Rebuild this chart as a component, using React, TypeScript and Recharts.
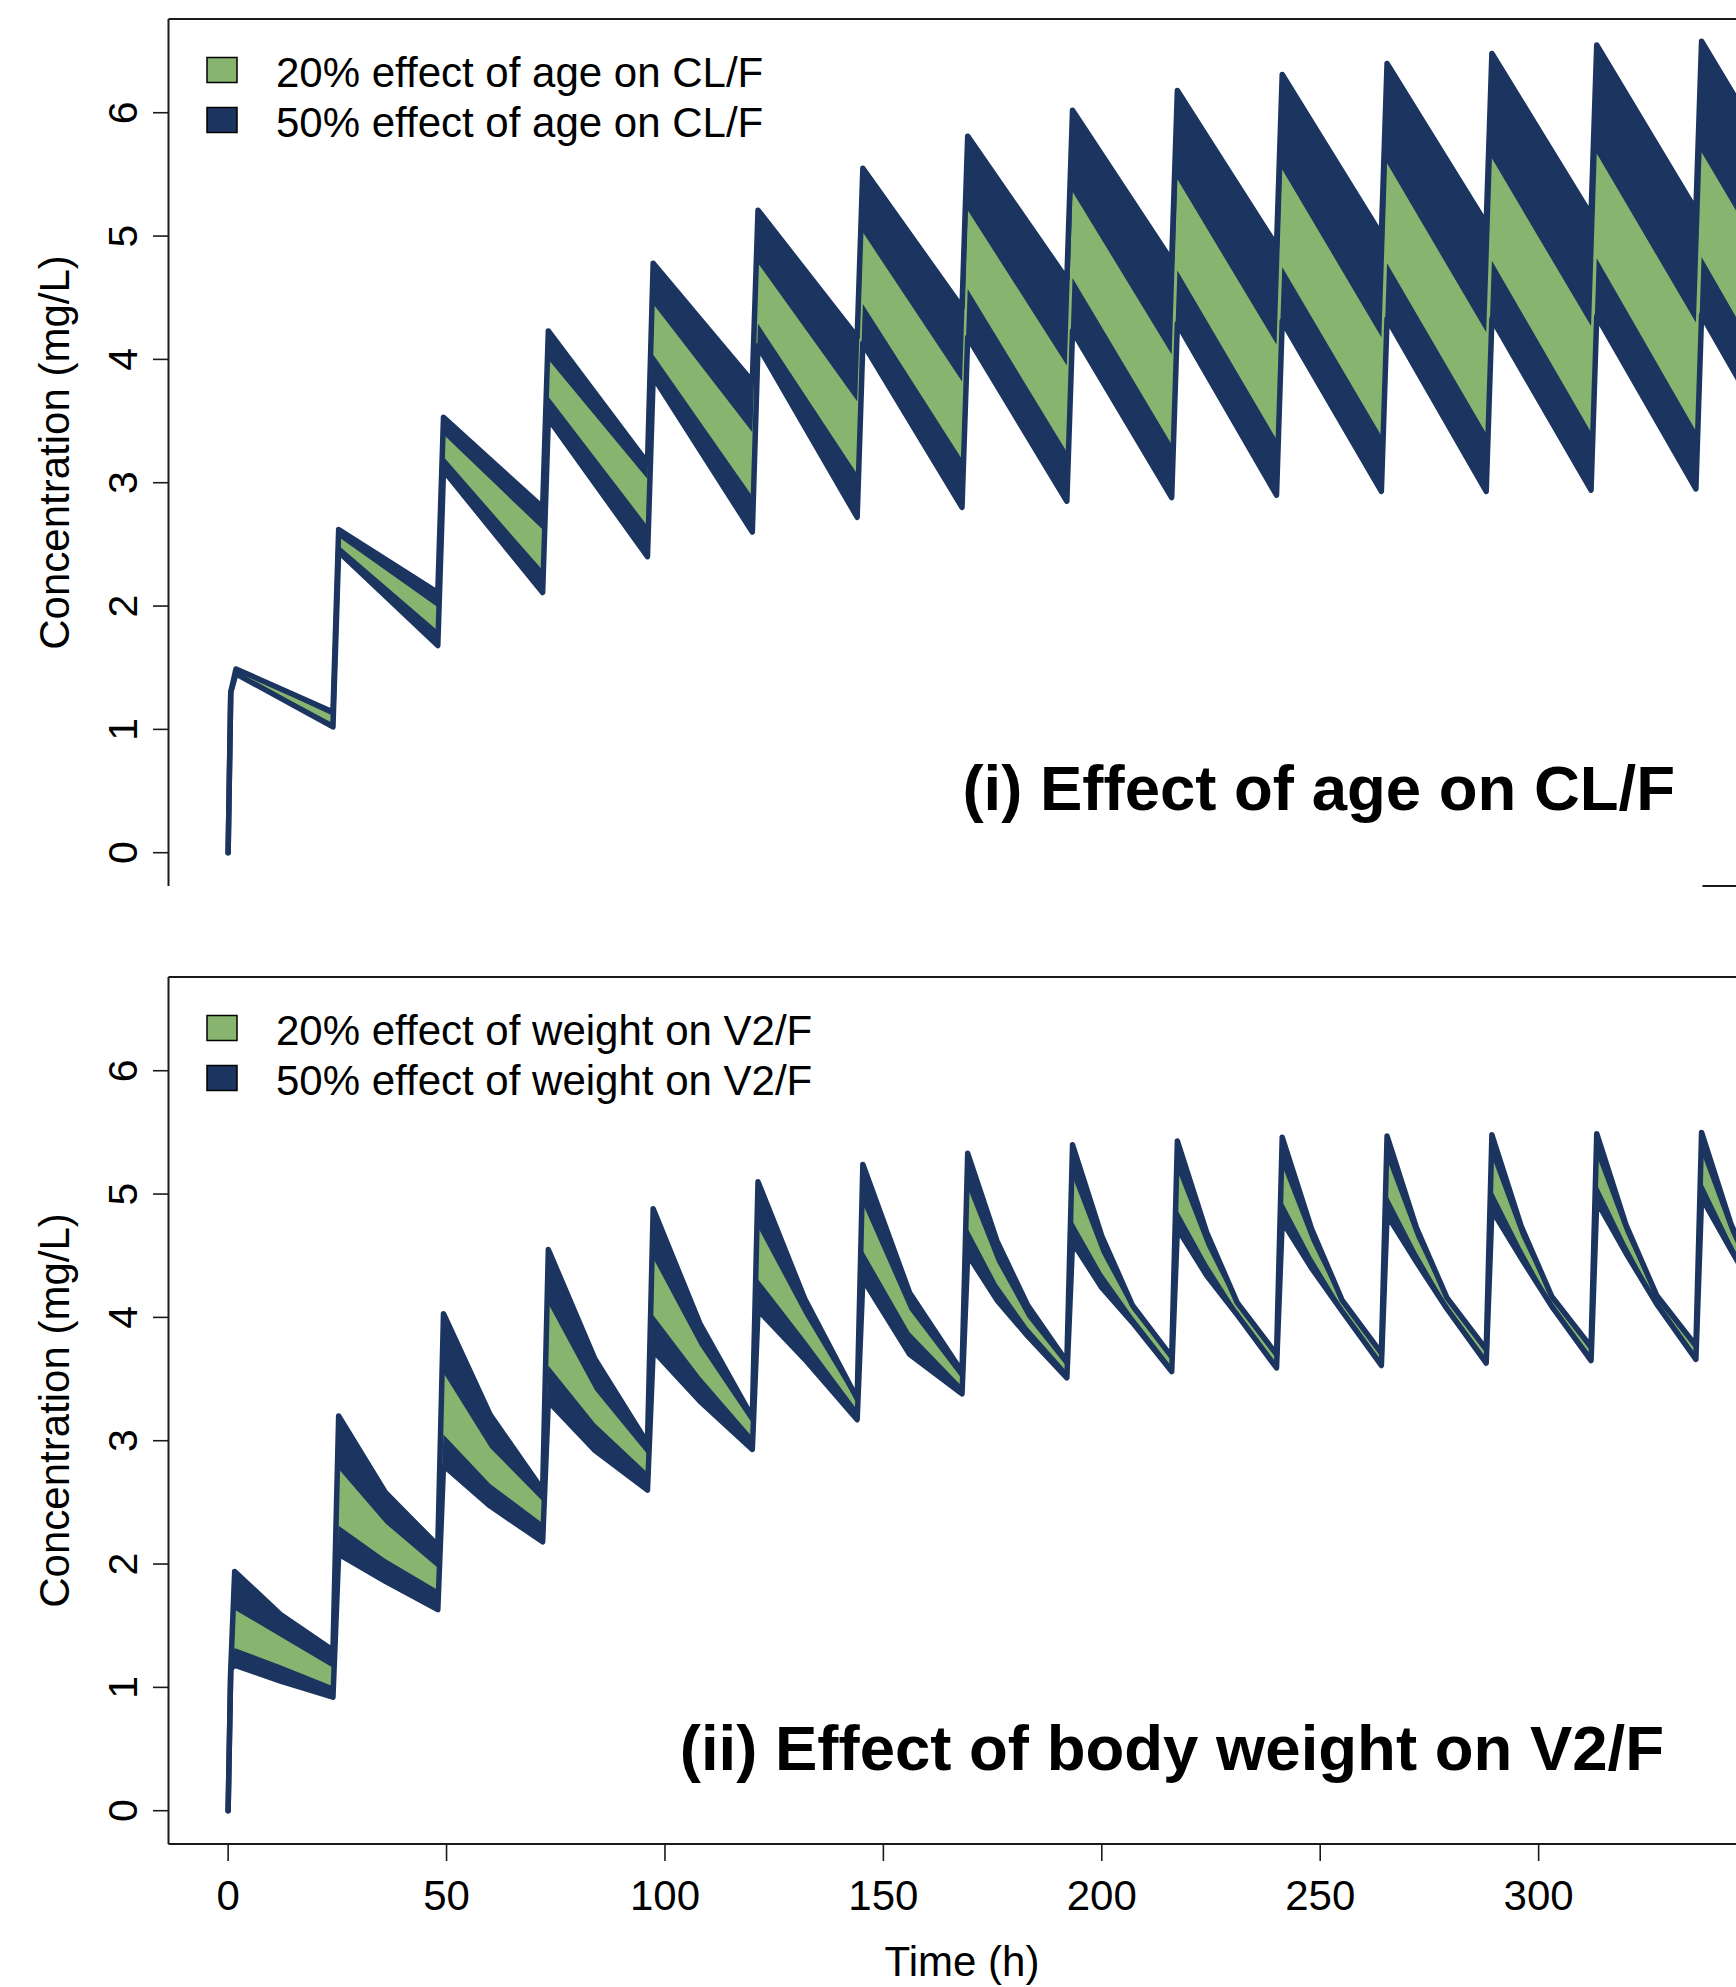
import React from 'react';
import { ComposedChart, Area, XAxis, YAxis, ReferenceLine, Legend } from 'recharts';

const NAVY = '#1B3560';
const GREEN = '#87B46E';
const INK = '#1a1a1a';
const FONT = '"Liberation Sans", Arial, Helvetica, sans-serif';

const timeTicks = [0, 50, 100, 150, 200, 250, 300];
const concTicks = [0, 1, 2, 3, 4, 5, 6];
const timeDomain: [number, number] = [-13.65, 353.65];
const concDomain: [number, number] = [-0.27, 6.76];

// (i) age on CL/F : envelope of the simulated profiles, 20% vs 50% effect
const ageTime = [0, 0.6, 1.8, 24, 25.3, 48, 49.3, 72, 73.3, 96, 97.3, 120, 121.3, 144, 145.3, 168, 169.3, 192, 193.3, 216, 217.3, 240, 241.3, 264, 265.3, 288, 289.3, 312, 313.3, 336, 337.3, 360];
const ageNavyHi = [0, 1.3, 1.49, 1.14, 2.62, 2.11, 3.53, 2.8, 4.23, 3.16, 4.78, 3.82, 5.21, 4.18, 5.55, 4.42, 5.81, 4.65, 6.02, 4.8, 6.18, 4.92, 6.31, 5.01, 6.4, 5.1, 6.48, 5.17, 6.55, 5.21, 6.58, 5.24];
const ageGreenHi = [0, 1.3, 1.48, 1.11, 2.56, 1.99, 3.39, 2.62, 4.0, 3.03, 4.45, 3.41, 4.78, 3.66, 5.03, 3.82, 5.21, 3.95, 5.36, 4.04, 5.46, 4.12, 5.54, 4.18, 5.59, 4.22, 5.63, 4.27, 5.67, 4.3, 5.68, 4.32];
const ageGreenLo = [0, 1.3, 1.46, 1.05, 2.49, 1.8, 3.21, 2.29, 3.7, 2.65, 4.04, 2.89, 4.29, 3.07, 4.45, 3.19, 4.57, 3.25, 4.66, 3.31, 4.72, 3.35, 4.75, 3.38, 4.78, 3.4, 4.8, 3.41, 4.82, 3.42, 4.83, 3.43];
const ageNavyLo = [0, 1.3, 1.45, 1.02, 2.44, 1.68, 3.1, 2.11, 3.52, 2.4, 3.86, 2.6, 4.11, 2.72, 4.13, 2.8, 4.18, 2.85, 4.23, 2.88, 4.29, 2.9, 4.31, 2.93, 4.33, 2.93, 4.33, 2.94, 4.35, 2.95, 4.36, 2.96];

// (ii) body weight on V2/F
const weightTime = [
  0, 0.6, 1.5, 12, 24,
  25.3, 36, 48,
  49.3, 60, 72,
  73.3, 84, 96,
  97.3, 108, 120,
  121.3, 132, 144,
  145.3, 156, 168,
  169.3, 176, 183, 192,
  193.3, 200, 207, 216,
  217.3, 224, 231, 240,
  241.3, 248, 255, 264,
  265.3, 272, 279, 288,
  289.3, 296, 303, 312,
  313.3, 320, 327, 336,
  337.3, 344, 351, 360,
];
const weightNavyHi = [
  0, 1.15, 1.94, 1.59, 1.3,
  3.2, 2.58, 2.15,
  4.03, 3.21, 2.6,
  4.55, 3.66, 2.98,
  4.88, 3.95, 3.19,
  5.1, 4.15, 3.34,
  5.24, 4.2, 3.56,
  5.33, 4.62, 4.1, 3.64,
  5.4, 4.66, 4.1, 3.68,
  5.43, 4.69, 4.12, 3.7,
  5.46, 4.72, 4.14, 3.71,
  5.47, 4.73, 4.16, 3.74,
  5.48, 4.74, 4.17, 3.76,
  5.49, 4.75, 4.18, 3.77,
  5.5, 4.76, 4.19, 3.78,
];
const weightGreenHi = [
  0, 1.15, 1.63, 1.41, 1.16,
  2.77, 2.33, 1.97,
  3.55, 2.94, 2.51,
  4.11, 3.41, 2.89,
  4.48, 3.77, 3.14,
  4.73, 4.02, 3.31,
  4.92, 4.06, 3.5,
  5.05, 4.45, 4.0, 3.6,
  5.14, 4.52, 4.06, 3.66,
  5.19, 4.58, 4.09, 3.67,
  5.23, 4.62, 4.11, 3.68,
  5.28, 4.65, 4.13, 3.71,
  5.3, 4.66, 4.14, 3.73,
  5.31, 4.68, 4.15, 3.74,
  5.33, 4.69, 4.16, 3.75,
];
const weightGreenLo = [
  0, 1.15, 1.32, 1.18, 1.01,
  2.31, 2.04, 1.79,
  3.05, 2.65, 2.33,
  3.61, 3.14, 2.74,
  4.02, 3.52, 3.03,
  4.31, 3.82, 3.25,
  4.54, 3.88, 3.44,
  4.72, 4.27, 3.92, 3.56,
  4.78, 4.36, 4.01, 3.6,
  4.87, 4.44, 4.05, 3.62,
  4.94, 4.49, 4.08, 3.64,
  4.99, 4.53, 4.1, 3.67,
  5.03, 4.56, 4.11, 3.69,
  5.08, 4.59, 4.13, 3.7,
  5.1, 4.61, 4.14, 3.71,
];
const weightNavyLo = [
  0, 1.15, 1.18, 1.05, 0.92,
  2.08, 1.86, 1.63,
  2.8, 2.47, 2.18,
  3.32, 2.92, 2.6,
  3.73, 3.32, 2.93,
  4.06, 3.66, 3.17,
  4.31, 3.7, 3.38,
  4.51, 4.14, 3.85, 3.51,
  4.61, 4.24, 3.96, 3.56,
  4.72, 4.34, 4.02, 3.59,
  4.78, 4.4, 4.05, 3.61,
  4.83, 4.45, 4.07, 3.63,
  4.87, 4.48, 4.09, 3.65,
  4.94, 4.52, 4.11, 3.66,
  4.97, 4.55, 4.12, 3.67,
];

const ageLabels = ['20% effect of age on CL/F', '50% effect of age on CL/F'];
const weightLabels = ['20% effect of weight on V2/F', '50% effect of weight on V2/F'];

const buildRows = (time: number[], navyLo: number[], navyHi: number[], greenLo: number[], greenHi: number[]) =>
  time.map((t, i) => ({
    t,
    navy: [navyLo[i], navyHi[i]],
    green: [greenLo[i], greenHi[i]],
  }));

const ageRows = buildRows(ageTime, ageNavyLo, ageNavyHi, ageGreenLo, ageGreenHi);
const weightRows = buildRows(weightTime, weightNavyLo, weightNavyHi, weightGreenLo, weightGreenHi);

// layout, chart coordinates
const CHART_W = 1780;
const PLOT_LEFT = 168.5;
const PLOT_TOP = 19;
const PLOT_H = 867;
const Y_AXIS_W = 80;
const AXIS_Y = PLOT_TOP + PLOT_H;

const YTick = (props: any) => {
  const { y, payload } = props;
  return (
    <g>
      <line x1={153} x2={PLOT_LEFT} y1={y} y2={y} stroke={INK} strokeWidth={1.6} />
      <text x={137} y={y} transform={`rotate(-90 137 ${y})`} textAnchor="middle" fontSize={41} fontFamily={FONT} fill="#000">
        {payload.value}
      </text>
    </g>
  );
};

const XTick = (props: any) => {
  const { x, payload } = props;
  return (
    <g>
      <line x1={x} x2={x} y1={AXIS_Y} y2={AXIS_Y + 17} stroke={INK} strokeWidth={1.6} />
      <text x={x} y={AXIS_Y + 66} textAnchor="middle" fontSize={42} fontFamily={FONT} fill="#000">
        {payload.value}
      </text>
    </g>
  );
};

const LegendBox = ({ labels }: { labels: string[] }) => (
  <svg width={1000} height={160} style={{ display: 'block', overflow: 'visible' }}>
    {labels.map((label, i) => (
      <g key={label}>
        <rect x={207} y={PLOT_TOP + 38.5 + i * 50} width={30} height={25} fill={i === 0 ? GREEN : NAVY} stroke="#000" strokeWidth={1.5} />
        <text x={276} y={PLOT_TOP + 68 + i * 50} fontSize={42} fontFamily={FONT} fill="#000">
          {label}
        </text>
      </g>
    ))}
  </svg>
);

type PanelProps = {
  rows: any[];
  labels: string[];
  showTime: boolean;
};

const Panel = ({ rows, labels, showTime }: PanelProps) => {
  const height = showTime ? PLOT_TOP + PLOT_H + 143 : PLOT_TOP + PLOT_H + 14;
  return (
    <ComposedChart
      width={CHART_W}
      height={height}
      data={rows}
      margin={{ top: PLOT_TOP, left: PLOT_LEFT - Y_AXIS_W, right: CHART_W - 1773, bottom: showTime ? 23 : 14 }}
    >
      <XAxis
        dataKey="t"
        type="number"
        domain={timeDomain}
        allowDataOverflow
        ticks={timeTicks}
        hide={!showTime}
        height={120}
        tickLine={false}
        tick={<XTick />}
        axisLine={{ stroke: INK, strokeWidth: 2 }}
      />
      <YAxis
        type="number"
        domain={concDomain}
        allowDataOverflow
        ticks={concTicks}
        width={Y_AXIS_W}
        tickLine={false}
        tick={<YTick />}
        axisLine={{ stroke: INK, strokeWidth: 2 }}
      />
      <Legend
        layout="horizontal"
        verticalAlign="middle"
        align="center"
        wrapperStyle={{ position: 'absolute', left: 0, top: 0, width: 1000, height: 160 }}
        content={() => <LegendBox labels={labels} />}
      />
      <Area type="linear" dataKey="navy" stroke="none" fill={NAVY} fillOpacity={1} dot={false} activeDot={false} isAnimationActive={false} />
      <Area type="linear" dataKey="green" stroke="none" fill={GREEN} fillOpacity={1} dot={false} activeDot={false} isAnimationActive={false} />
      <Area
        type="linear"
        dataKey="navy"
        stroke={NAVY}
        strokeWidth={5.5}
        strokeLinejoin="round"
        strokeLinecap="round"
        fill="none"
        fillOpacity={0}
        dot={false}
        activeDot={false}
        isAnimationActive={false}
      />
      <ReferenceLine y={concDomain[1]} stroke={INK} strokeWidth={2} />
      {!showTime && (
        <ReferenceLine
          segment={[{ x: 337.5, y: concDomain[0] }, { x: timeDomain[1], y: concDomain[0] }]}
          stroke={INK}
          strokeWidth={2}
        />
      )}
    </ComposedChart>
  );
};

const App = () => (
  <div style={{ position: 'absolute', left: 0, top: 0, width: 1736, height: 1987, overflow: 'hidden', background: '#fff' }}>
    <div style={{ position: 'absolute', left: 0, top: 0 }}>
      <Panel rows={ageRows} labels={ageLabels} showTime={false} />
    </div>
    <div style={{ position: 'absolute', left: 0, top: 958 }}>
      <Panel rows={weightRows} labels={weightLabels} showTime />
    </div>
    <svg width={1736} height={1987} style={{ position: 'absolute', left: 0, top: 0, pointerEvents: 'none' }} fontFamily={FONT}>
      <text x={69} y={452.5} transform="rotate(-90 69 452.5)" textAnchor="middle" fontSize={42} fill="#000">
        Concentration (mg/L)
      </text>
      <text x={69} y={1410.5} transform="rotate(-90 69 1410.5)" textAnchor="middle" fontSize={42} fill="#000">
        Concentration (mg/L)
      </text>
      <text x={962} y={1976} textAnchor="middle" fontSize={42} fill="#000">
        Time (h)
      </text>
      <text x={1675} y={810} textAnchor="end" fontSize={63.5} fontWeight="bold" fill="#000">
        (i) Effect of age on CL/F
      </text>
      <text x={1664} y={1770} textAnchor="end" fontSize={63.5} fontWeight="bold" fill="#000">
        (ii) Effect of body weight on V2/F
      </text>
    </svg>
  </div>
);

export default App;
